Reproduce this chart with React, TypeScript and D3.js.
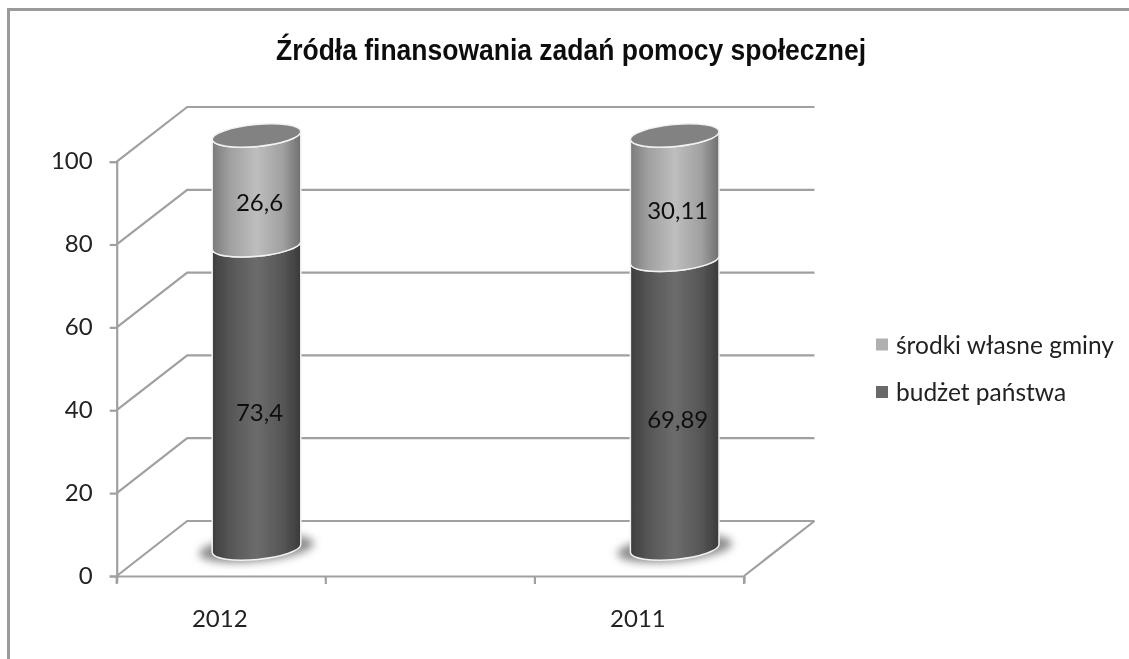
import { useEffect, useRef } from "react";
import * as d3 from "d3";

const title = "Źródła finansowania zadań pomocy społecznej";
// the middle category is empty in the original sheet
const categories = ["2012", " ", "2011"];
const ownFunds = [26.6, null, 30.11];
const stateBudget = [73.4, null, 69.89];
const ownLabels = ["26,6", "", "30,11"];
const budgetLabels = ["73,4", "", "69,89"];
const legendLabels = ["środki własne gminy", "budżet państwa"];
const yTicks = [0, 20, 40, 60, 80, 100];

const WIDTH = 1129;
const HEIGHT = 659;
const labelFont = "Lato, 'Open Sans', sans-serif";
const gridColor = "#a0a0a0";

const x = d3.scaleBand().domain(categories).range([116.7, 744]);
const yFront = d3.scaleLinear().domain([0, 100]).range([576, 161.6]);
const yBack = d3.scaleLinear().domain([0, 100]).range([521, 107]);
const yBar = d3.scaleLinear().domain([0, 100]).range([548.5, 135.5]);
const depthX = 70.5;
const rx = 44.5;
const ry = 11;
const tilt = -5.4;

const tiltDx = rx * Math.cos((tilt * Math.PI) / 180);
const tiltDy = rx * Math.sin((tilt * Math.PI) / 180);

// side of a cylinder between two values, with rounded ends
const cylinderPath = (cx: number, from: number, to: number) => {
  const y0 = yBar(from);
  const y1 = yBar(to);
  return (
    `M${cx - tiltDx},${y1 - tiltDy}` +
    `A${rx},${ry} ${tilt} 0 0 ${cx + tiltDx},${y1 + tiltDy}` +
    `L${cx + tiltDx},${y0 + tiltDy}` +
    `A${rx},${ry} ${tilt} 0 1 ${cx - tiltDx},${y0 - tiltDy}Z`
  );
};

const App = () => {
  const axisRef = useRef<SVGGElement>(null);
  const baseRef = useRef<SVGGElement>(null);

  useEffect(() => {
    const left = d3.select(axisRef.current);
    left.selectAll("*").remove();
    left
      .attr("transform", `translate(${x.range()[0]},0)`)
      .call(
        d3.axisLeft(yFront).tickValues(yTicks).tickSize(7).tickPadding(17) as any
      );
    left.selectAll("text").attr("font-size", 24).attr("font-family", labelFont).attr("fill", "#222").attr("dy", "0.3em");
    left.selectAll("line,path").attr("stroke", gridColor).attr("stroke-width", 2.2);

    const bottom = d3.select(baseRef.current);
    bottom.selectAll("*").remove();
    bottom
      .attr("transform", `translate(0,${yFront(0)})`)
      .call(d3.axisBottom(x).tickSize(7).tickSizeOuter(7).tickPadding(27) as any);
    bottom.selectAll("text").attr("font-size", 24).attr("font-family", labelFont).attr("fill", "#222").attr("dx", -1.5);
    bottom.selectAll("path").attr("stroke", gridColor).attr("stroke-width", 2.2);
    // ticks sit on the band edges, not on the band centres
    bottom.selectAll(".tick line").remove();
    bottom
      .selectAll("line.edge")
      .data(categories.concat("end"))
      .join("line")
      .attr("class", "edge")
      .attr("x1", (_, i) => x.range()[0] + i * x.step())
      .attr("x2", (_, i) => x.range()[0] + i * x.step())
      .attr("y1", 0)
      .attr("y2", 8)
      .attr("stroke", gridColor)
      .attr("stroke-width", 2.2);
  }, []);

  const x0 = x.range()[0];
  const x1 = x.range()[1];

  return (
    <svg
      width={WIDTH}
      height={HEIGHT}
      style={{ position: "absolute", left: 0, top: 0, background: "#fff" }}
    >
      <defs>
        <linearGradient id="light">
          <stop offset="0" stopColor="#7a7a7a" />
          <stop offset="0.2" stopColor="#a0a0a0" />
          <stop offset="0.5" stopColor="#bebebe" />
          <stop offset="0.8" stopColor="#a0a0a0" />
          <stop offset="1" stopColor="#6f6f6f" />
        </linearGradient>
        <linearGradient id="dark">
          <stop offset="0" stopColor="#3e3e3e" />
          <stop offset="0.2" stopColor="#565656" />
          <stop offset="0.5" stopColor="#6c6c6c" />
          <stop offset="0.8" stopColor="#565656" />
          <stop offset="1" stopColor="#3a3a3a" />
        </linearGradient>
        <filter id="soft" x="-30%" y="-60%" width="160%" height="220%">
          <feGaussianBlur stdDeviation="4" />
        </filter>
        <filter id="scan" x="0" y="0" width="100%" height="100%">
          <feGaussianBlur stdDeviation="0.45" />
        </filter>
      </defs>

      <g filter="url(#scan)">
        <rect x={0} y={0} width={WIDTH} height={HEIGHT} fill="#fff" />
        <path
          d={`M${WIDTH},9.5H8.5V${HEIGHT}`}
          fill="none"
          stroke="#9a9a9a"
          strokeWidth={3}
        />

        <text
          x={571}
          y={60}
          textAnchor="middle"
          textLength={590}
          lengthAdjust="spacingAndGlyphs"
          fontFamily="'Liberation Sans', sans-serif"
          fontWeight="bold"
          fontSize={29}
          fill="#111"
        >
          {title}
        </text>

        {/* walls and floor */}
        <g fill="none" stroke={gridColor} strokeWidth={2.2}>
          {yTicks.map((t) => (
            <path
              key={t}
              d={`M${x0},${yFront(t)}L${x0 + depthX},${yBack(t)}L${x1 + depthX},${yBack(t)}`}
            />
          ))}
          <path d={`M${x1},${yFront(0)}L${x1 + depthX},${yBack(0)}`} />
        </g>

        <g ref={axisRef} />
        <g ref={baseRef} />

        {categories.map((c, i) => {
          if (stateBudget[i] == null) return null;
          const cx = x(c)! + x.bandwidth() / 2 + depthX / 2;
          const budget = stateBudget[i] as number;
          const own = ownFunds[i] as number;
          const total = budget + own;
          return (
            <g key={c}>
              <ellipse
                cx={cx}
                cy={yBar(0)}
                rx={rx + 13}
                ry={ry + 2}
                fill="#8a8a8a"
                filter="url(#soft)"
                transform={`rotate(${tilt} ${cx} ${yBar(0)})`}
              />
              <path d={cylinderPath(cx, 0, budget)} fill="url(#dark)" stroke="#f2f2f2" strokeWidth={1.5} />
              <path d={cylinderPath(cx, budget, total)} fill="url(#light)" stroke="#f2f2f2" strokeWidth={1.5} />
              <ellipse
                cx={cx}
                cy={yBar(total)}
                rx={rx}
                ry={ry}
                fill="#828282"
                stroke="#f2f2f2"
                strokeWidth={1.5}
                transform={`rotate(${tilt} ${cx} ${yBar(total)})`}
              />
              <text
                x={cx + 3}
                y={yBar(budget / 2) + 24}
                textAnchor="middle"
                fontFamily={labelFont}
                fontSize={24}
                fill="#111"
              >
                {budgetLabels[i]}
              </text>
              <text
                x={cx + 3}
                y={yBar(budget + own / 2) + 21}
                textAnchor="middle"
                fontFamily={labelFont}
                fontSize={24}
                fill="#111"
              >
                {ownLabels[i]}
              </text>
            </g>
          );
        })}

        {legendLabels.map((l, i) => (
          <g key={l} transform={`translate(876,${338.5 + i * 47.5})`}>
            <rect x={0} y={0} width={12} height={12} fill={i === 0 ? "#b0b0b0" : "#6a6a6a"} />
            <text x={20} y={15} fontFamily={labelFont} fontSize={24.5} fill="#222">
              {l}
            </text>
          </g>
        ))}
      </g>
    </svg>
  );
};

export default App;
